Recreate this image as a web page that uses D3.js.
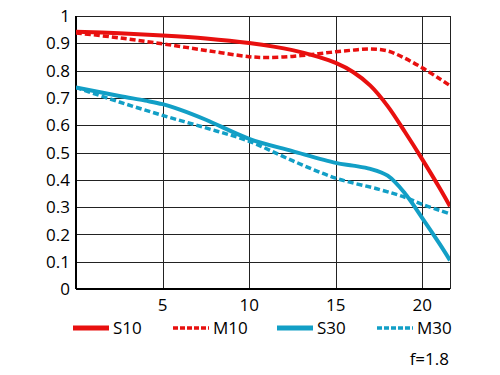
<html>
<head>
<style>
  body { margin: 0; background: #fff; }
  text { font-family: "Open Sans", "Noto Sans", sans-serif; fill: #000; }
</style>
<script src="https://d3js.org/d3.v7.min.js"></script>
</head>
<body>
<svg id="chart" width="500" height="375"></svg>
<script>
// MTF values: [image height mm, contrast]
var s10 = [[0,0.942],[2.5,0.937],[5,0.929],[7.5,0.918],[10,0.901],[12.5,0.875],[14,0.85],[15,0.828],[16,0.795],[17,0.745],[18,0.67],[19,0.575],[20,0.475],[21,0.37],[21.6,0.303]];
var m10 = [[0,0.938],[2.5,0.92],[5,0.898],[7.5,0.874],[10,0.851],[11,0.848],[12.5,0.852],[14,0.862],[15,0.869],[16,0.875],[17,0.879],[18,0.872],[19,0.845],[20,0.81],[21,0.77],[21.6,0.745]];
var s30 = [[0,0.738],[2.5,0.707],[4,0.69],[5,0.677],[6,0.657],[7.5,0.62],[10,0.55],[12.5,0.505],[15,0.462],[16,0.452],[17,0.44],[18,0.415],[19,0.35],[20,0.26],[21,0.165],[21.6,0.105]];
var m30 = [[0,0.738],[2.5,0.685],[5,0.636],[7.5,0.59],[10,0.541],[12.5,0.47],[15,0.406],[17.5,0.365],[19,0.336],[20,0.31],[21,0.288],[21.6,0.275]];

var xTicks = [5, 10, 15, 20];
var yTicks = [0, 0.1, 0.2, 0.3, 0.4, 0.5, 0.6, 0.7, 0.8, 0.9, 1];
var seriesNames = ["S10", "M10", "S30", "M30"];
var apertureLabel = "f=1.8";

var red = "#e8100f", blue = "#129fc6";
var series = [
  {name: seriesNames[0], data: s10, color: red, dash: null, w: 4},
  {name: seriesNames[1], data: m10, color: red, dash: "6,3", w: 3.5},
  {name: seriesNames[2], data: s30, color: blue, dash: null, w: 4},
  {name: seriesNames[3], data: m30, color: blue, dash: "6,3", w: 3.5}
];

var margin = {top: 16, right: 50, bottom: 86, left: 76},
    width = 500 - margin.left - margin.right,
    height = 375 - margin.top - margin.bottom;

var svg = d3.select("#chart");
var g = svg.append("g").attr("transform", "translate(" + margin.left + "," + margin.top + ")");

var x = d3.scaleLinear().domain([0, 21.6]).range([0, width]);
var y = d3.scaleLinear().domain([0, 1]).range([height, 0]);

// grid
g.selectAll(".hgrid").data(yTicks).enter().append("line")
  .attr("x1", 0).attr("x2", width)
  .attr("y1", function(d) { return Math.round(y(d)) + 0.5; })
  .attr("y2", function(d) { return Math.round(y(d)) + 0.5; })
  .attr("stroke", "#222").attr("stroke-width", 1);
g.selectAll(".vgrid").data(xTicks.concat([21.6])).enter().append("line")
  .attr("y1", 0).attr("y2", height)
  .attr("x1", function(d) { return Math.round(x(d)) + 0.5; })
  .attr("x2", function(d) { return Math.round(x(d)) + 0.5; })
  .attr("stroke", "#222").attr("stroke-width", 1);

// axes lines
g.append("line").attr("x1", 0).attr("x2", 0).attr("y1", 0).attr("y2", height)
  .attr("stroke", "#000").attr("stroke-width", 2);
g.append("line").attr("x1", 0).attr("x2", width).attr("y1", height).attr("y2", height)
  .attr("stroke", "#000").attr("stroke-width", 2);

// tick labels
g.selectAll(".ylab").data(yTicks).enter().append("text")
  .attr("x", -6).attr("y", function(d) { return y(d); })
  .attr("dy", "0.36em").attr("text-anchor", "end")
  .style("font-size", "17px")
  .text(function(d) { return d === 0 || d === 1 ? d : d.toFixed(1); });
g.selectAll(".xlab").data(xTicks).enter().append("text")
  .attr("x", function(d) { return x(d); }).attr("y", height + 22)
  .attr("text-anchor", "middle")
  .style("font-size", "17px")
  .text(function(d) { return d; });

// curves
svg.append("clipPath").attr("id", "clip").append("rect")
  .attr("x", 0).attr("y", -5).attr("width", width).attr("height", height + 10);
var line = d3.line()
  .x(function(d) { return x(d[0]); })
  .y(function(d) { return y(d[1]); })
  .curve(d3.curveCatmullRom.alpha(0.5));
g.append("g").attr("clip-path", "url(#clip)").selectAll("path").data(series).enter().append("path")
  .attr("d", function(d) { return line(d.data); })
  .attr("fill", "none")
  .attr("stroke", function(d) { return d.color; })
  .attr("stroke-width", function(d) { return d.w; })
  .attr("stroke-dasharray", function(d) { return d.dash; });

// legend
var legX = [73, 173, 277, 377], legY = 328;
var leg = svg.selectAll(".leg").data(series).enter().append("g")
  .attr("transform", function(d, i) { return "translate(" + legX[i] + "," + legY + ")"; });
leg.append("line").attr("x1", 0).attr("x2", 36).attr("y1", 0).attr("y2", 0)
  .attr("stroke", function(d) { return d.color; })
  .attr("stroke-width", function(d) { return d.dash ? 3.5 : 5; })
  .attr("stroke-dasharray", function(d) { return d.dash ? "5,2" : null; });
leg.append("text").attr("x", 40).attr("y", 0).attr("dy", "0.36em")
  .style("font-size", "17px")
  .text(function(d) { return d.name; });

svg.append("text").attr("x", 449).attr("y", 359).attr("dy", "0.36em")
  .attr("text-anchor", "end").style("font-size", "17px")
  .text(apertureLabel);
</script>
</body>
</html>
